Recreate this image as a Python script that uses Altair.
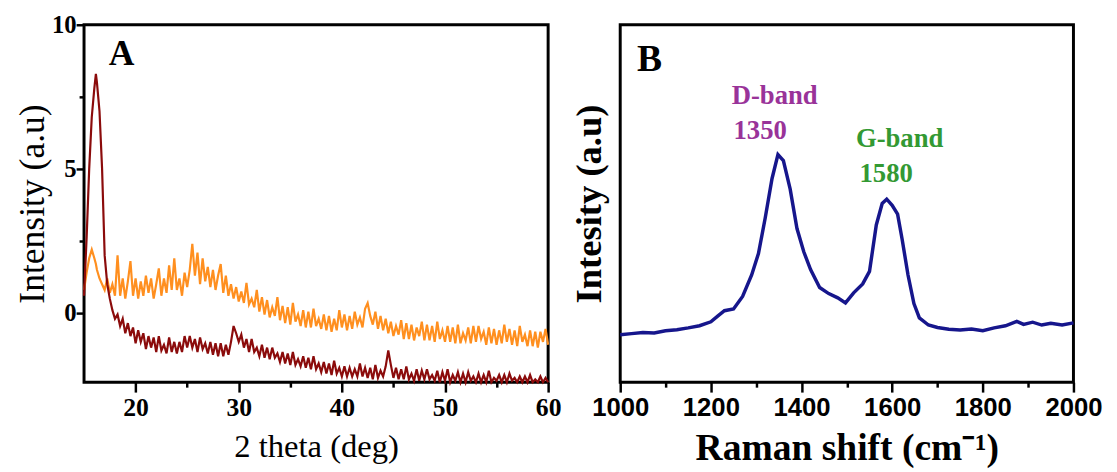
import altair as alt
import pandas as pd

# ---------------- Panel A : XRD ----------------
xrd_theta = [15, 15.25, 15.5, 15.75, 16, 16.15, 16.25, 16.5, 16.75, 17, 17.25, 17.5, 17.75, 18] + \
            [18.25 + 0.25 * i for i in range(168)]

xrd_orange = [0.8, 1.4, 1.9, 2.2, 1.9, 1.7, 1.5, 1.2, 1.0, 0.8, 1.2, 0.7, 1.0, 0.6,
              2.0, 0.6, 1.2, 0.5,
              1.1, 1.8, 0.6, 1.2,
              0.5, 1.1, 0.6, 1.3,
              0.7, 1.2, 0.5, 1.0,
              1.55, 0.6, 1.2, 0.7,
              1.65, 0.8, 1.9, 0.8,
              1.2, 0.6, 1.4, 0.9,
              1.5, 2.4, 1.3, 2.1,
              1.0, 1.9, 1.1, 1.6,
              0.9, 1.5, 0.8, 1.3,
              1.7, 0.7, 1.3, 0.6,
              1.0, 0.5, 0.9, 0.4,
              0.75, 0.35, 1.05, 0.3,
              0.5, 0.2, 0.8, 0.05,
              0.55, -0.05, 0.45, -0.15,
              0.2, -0.1, 0.55, -0.25,
              0.25, -0.35, 0.2, -0.4,
              0.35, -0.3, -0.05, -0.45,
              0.1, -0.5, 0.05, -0.5,
              0.15, -0.45, -0.2, -0.55,
              -0.05, -0.6, -0.1, -0.65,
              -0.2, -0.6, 0.1, -0.5,
              -0.05, -0.6, -0.1, -0.55,
              0.05, -0.4, -0.15, -0.5,
              0.15, 0.35, -0.1, -0.4,
              0.05, -0.55, -0.1, -0.6,
              -0.2, -0.7, -0.3, -0.8,
              -0.45, -0.75, -0.25, -0.9,
              -0.35, -0.9, -0.4, -0.95,
              -0.5, -0.8, -0.3, -0.95,
              -0.4, -0.95, -0.45, -1.0,
              -0.3, -0.9, -0.6, -1.0,
              -0.45, -1.0, -0.5, -1.05,
              -0.4, -1.05, -0.7, -0.95,
              -0.5, -1.05, -0.45, -1.0,
              -0.45, -0.9, -0.65, -1.1,
              -0.5, -1.05, -0.55, -1.1,
              -0.6, -1.05, -0.4, -1.0,
              -0.55, -1.1, -0.6, -1.15,
              -0.45, -1.0, -0.75, -1.15,
              -0.6, -1.15, -0.65, -1.2,
              -0.65, -1.0, -0.55, -1.1]

xrd_red = [0.6, 2.6, 5.0, 6.8, 7.8, 8.3, 8.0, 7.0, 5.0, 2.0, 1.0, 0.5, 0.1, -0.2,
           -0.05, -0.45, -0.2, -0.7,
           -0.35, -0.8, -0.5, -1.05,
           -0.6, -1.0, -0.7, -1.25,
           -0.8, -1.2, -0.85, -1.35,
           -0.8, -1.3, -1.1, -1.4,
           -0.85, -1.35, -1.0, -1.4,
           -1.0, -1.35, -0.8, -1.2,
           -0.8, -1.2, -0.9, -1.35,
           -0.85, -1.25, -1.05, -1.4,
           -1.0, -1.45, -1.05, -1.5,
           -1.05, -1.5, -1.1, -1.45,
           -1.0, -0.45, -0.7, -1.0,
           -0.75, -1.2, -0.9, -1.35,
           -0.9, -1.35, -1.2, -1.5,
           -1.1, -1.55, -1.2, -1.6,
           -1.2, -1.55, -1.4, -1.7,
           -1.35, -1.75, -1.4, -1.8,
           -1.35, -1.8, -1.6, -1.85,
           -1.5, -1.9, -1.55, -1.95,
           -1.5, -1.95, -1.75, -2.05,
           -1.7, -2.1, -1.75, -2.15,
           -1.65, -2.1, -1.9, -2.2,
           -1.85, -2.2, -1.9, -2.2,
           -1.95, -2.2, -1.75, -2.2,
           -1.9, -2.25, -1.9, -2.3,
           -1.8, -2.25, -2.0, -2.2,
           -1.85, -1.3, -1.8, -2.25,
           -1.9, -2.3, -1.95, -2.3,
           -1.85, -2.3, -2.1, -2.35,
           -1.95, -2.35, -2.0, -2.3,
           -1.95, -2.3, -2.15, -2.35,
           -2.0, -2.4, -2.05, -2.35,
           -1.95, -2.4, -2.15, -2.35,
           -2.05, -2.4, -2.1, -2.4,
           -2.05, -2.35, -2.2, -2.4,
           -2.1, -2.4, -2.15, -2.4,
           -2.0, -2.4, -2.25, -2.35,
           -2.15, -2.4, -2.15, -2.4,
           -2.1, -2.35, -2.25, -2.4,
           -2.2, -2.4, -2.2, -2.4,
           -2.15, -2.4, -2.3, -2.4,
           -2.2, -2.4, -2.25, -2.4]

xrd_x_ticks = [20, 30, 40, 50, 60]
xrd_x_minor = [25, 35, 45, 55]
xrd_y_ticks = [0, 5, 10]
xrd_y_minor = [2.5, 7.5]

# ---------------- Panel B : Raman ----------------
raman_shift = [1000, 1025, 1050, 1075, 1100, 1125, 1150, 1175, 1200, 1215, 1230, 1250,
               1270, 1290, 1305, 1320, 1335, 1348, 1360, 1375, 1390, 1405, 1420, 1440,
               1460, 1480, 1497, 1515, 1535, 1550, 1565, 1578, 1588, 1600, 1612, 1622,
               1635, 1648, 1660, 1680, 1700, 1725, 1750, 1775, 1800, 1825, 1850, 1875,
               1890, 1910, 1930, 1950, 1975, 2000]
raman_int = [13.3, 13.6, 13.9, 13.8, 14.4, 14.7, 15.2, 15.8, 16.9, 18.5, 20.0, 20.5,
             24.0, 30.0, 36.0, 46.0, 57.0, 63.7, 62.0, 54.0, 43.0, 36.5, 31.5, 26.5,
             24.8, 23.6, 22.2, 25.0, 27.5, 31.0, 44.0, 50.0, 51.2, 49.5, 47.0, 40.0,
             30.0, 22.0, 18.0, 16.0, 15.3, 14.8, 14.6, 14.9, 14.4, 15.2, 15.8, 17.0,
             16.2, 16.8, 16.0, 16.5, 16.0, 16.6]

raman_x_ticks = [1000, 1200, 1400, 1600, 1800, 2000]
raman_x_minor = [1100, 1300, 1500, 1700, 1900]

band_labels = ["D-band", "1350", "G-band", "1580"]
band_x = [1246, 1250, 1520, 1528]
band_y = [77.8, 68.1, 65.8, 56.1]
band_colors = ["#993399", "#993399", "#339933", "#339933"]

SERIF = "Liberation Serif"
SANS = "Liberation Sans"
W_A, W_B, H = 470, 459, 362

df_or = pd.DataFrame({"theta": xrd_theta, "I": xrd_orange})
df_red = pd.DataFrame({"theta": xrd_theta, "I": xrd_red})

xa_scale = alt.Scale(domain=[15, 60], nice=False, zero=False)
ya_scale = alt.Scale(domain=[-2.4, 10], nice=False, zero=False)

orange_line = alt.Chart(df_or).mark_line(color="#FF8F1F", strokeWidth=2.2).encode(
    x=alt.X("theta:Q", scale=xa_scale,
            axis=alt.Axis(values=xrd_x_ticks, format="d", title="2 theta (deg)",
                          titleFont=SERIF, titleFontSize=33, titleFontWeight="normal",
                          titleColor="black", titlePadding=10,
                          labelFont=SERIF, labelFontSize=26, labelFontWeight="bold",
                          labelColor="black", labelPadding=3, labelFlush=False,
                          labelOverlap=False, tickColor="black", tickWidth=2.5,
                          tickSize=10, domain=False, grid=False)),
    y=alt.Y("I:Q", scale=ya_scale,
            axis=alt.Axis(values=xrd_y_ticks, format="d", title="Intensity (a.u)",
                          titleFont=SERIF, titleFontSize=36, titleFontWeight="normal",
                          titleColor="black", titlePadding=0,
                          labelFont=SERIF, labelFontSize=25, labelFontWeight="bold",
                          labelColor="black", labelPadding=0, labelOverlap=False,
                          tickColor="black", tickWidth=2.5, tickSize=8,
                          domain=False, grid=False)),
)
red_line = alt.Chart(df_red).mark_line(color="#8B0B0B", strokeWidth=2.2).encode(
    x=alt.X("theta:Q", scale=xa_scale, axis=None),
    y=alt.Y("I:Q", scale=ya_scale, axis=None),
)
minor_a = alt.Chart(df_red).mark_point(opacity=0).encode(
    x=alt.X("theta:Q", scale=xa_scale,
            axis=alt.Axis(values=xrd_x_minor, labels=False, title=None, orient="bottom",
                          tickColor="black", tickWidth=2.5, tickSize=5,
                          domain=False, grid=False)),
    y=alt.Y("I:Q", scale=ya_scale,
            axis=alt.Axis(values=xrd_y_minor, labels=False, title=None, orient="left",
                          tickColor="black", tickWidth=2.5, tickSize=5,
                          domain=False, grid=False)),
)
label_a = alt.Chart(pd.DataFrame({"theta": [17.4], "I": [8.6], "t": ["A"]})).mark_text(
    font=SERIF, fontSize=36, fontWeight="bold", color="black", align="left",
    baseline="alphabetic").encode(
    x=alt.X("theta:Q", scale=xa_scale, axis=None),
    y=alt.Y("I:Q", scale=ya_scale, axis=None),
    text="t:N")

panel_a = alt.layer(orange_line, red_line, minor_a, label_a).resolve_axis(
    x="independent", y="independent").properties(width=W_A, height=H)

# Panel B
df_raman = pd.DataFrame({"shift": raman_shift, "I": raman_int})
xb_scale = alt.Scale(domain=[1000, 2000], nice=False, zero=False)
yb_scale = alt.Scale(domain=[0, 100], nice=False, zero=False)

raman_line = alt.Chart(df_raman).mark_line(color="#16168C", strokeWidth=3.5).encode(
    x=alt.X("shift:Q", scale=xb_scale,
            axis=alt.Axis(values=raman_x_ticks, format="d", title="Raman shift (cm⁻¹)",
                          titleFont=SERIF, titleFontSize=38, titleFontWeight="bold",
                          titleColor="black", titlePadding=9,
                          labelFont=SANS, labelFontSize=26, labelFontWeight="bold",
                          labelColor="black", labelPadding=3, labelFlush=False,
                          labelOverlap=False, tickColor="black", tickWidth=2.5,
                          tickSize=10, domain=False, grid=False)),
    y=alt.Y("I:Q", scale=yb_scale,
            axis=alt.Axis(labels=False, ticks=False, title="Intesity (a.u)",
                          titleFont=SERIF, titleFontSize=37, titleFontWeight="bold",
                          titleColor="black", titlePadding=12,
                          domain=False, grid=False)),
)
minor_b = alt.Chart(df_raman).mark_point(opacity=0).encode(
    x=alt.X("shift:Q", scale=xb_scale,
            axis=alt.Axis(values=raman_x_minor, labels=False, title=None, orient="bottom",
                          tickColor="black", tickWidth=2.5, tickSize=5,
                          domain=False, grid=False)),
    y=alt.Y("I:Q", scale=yb_scale, axis=None),
)
label_b = alt.Chart(pd.DataFrame({"shift": [1037], "I": [87.1], "t": ["B"]})).mark_text(
    font=SERIF, fontSize=38, fontWeight="bold", color="black", align="left",
    baseline="alphabetic").encode(
    x=alt.X("shift:Q", scale=xb_scale, axis=None),
    y=alt.Y("I:Q", scale=yb_scale, axis=None),
    text="t:N")
df_bands = pd.DataFrame({"shift": band_x, "I": band_y, "t": band_labels, "c": band_colors})
bands = alt.Chart(df_bands).mark_text(
    font=SERIF, fontSize=27, fontWeight="bold", align="left", baseline="alphabetic").encode(
    x=alt.X("shift:Q", scale=xb_scale, axis=None),
    y=alt.Y("I:Q", scale=yb_scale, axis=None),
    text="t:N",
    color=alt.Color("c:N", scale=None))

panel_b = alt.layer(raman_line, minor_b, label_b, bands).resolve_axis(
    x="independent", y="independent").properties(width=W_B, height=H)

chart = alt.hconcat(panel_a, panel_b, spacing=6).properties(
    padding={"left": 5, "top": 0, "right": 5, "bottom": 5}
).configure_view(stroke="black", strokeWidth=3)

chart.save("out.html", embed_options={"renderer": "svg", "actions": False})
